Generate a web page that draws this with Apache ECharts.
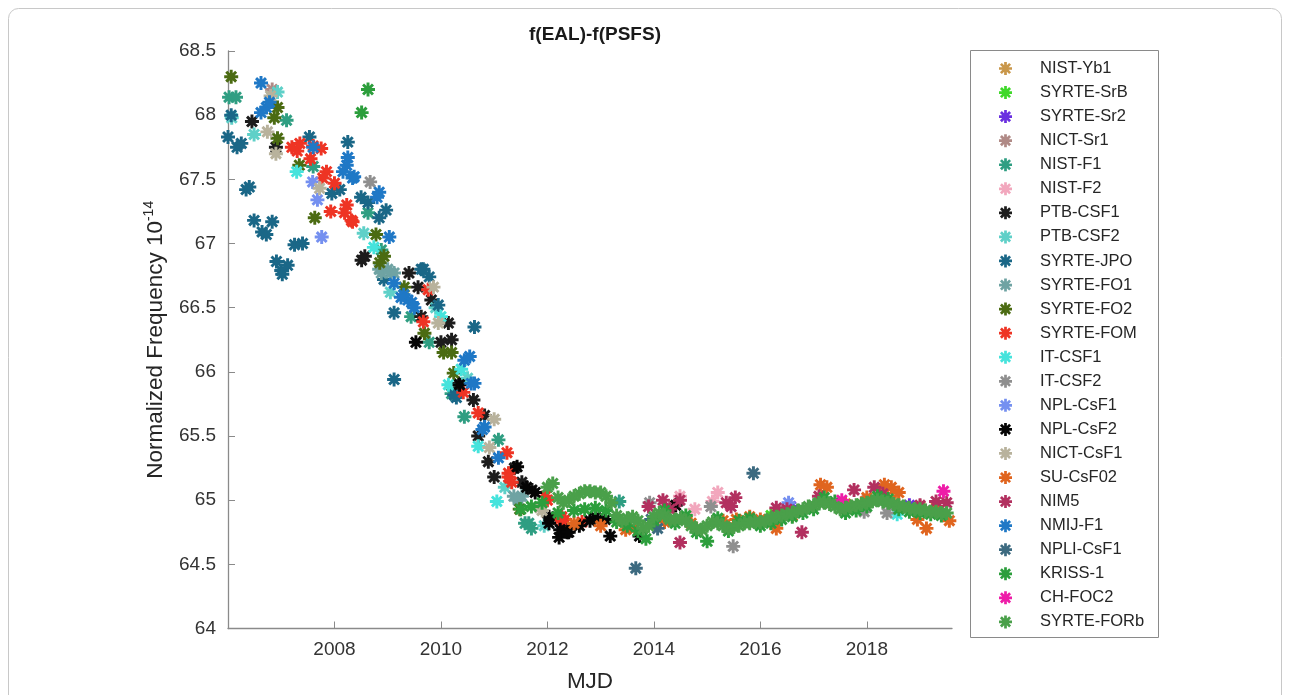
<!DOCTYPE html>
<html>
<head>
<meta charset="utf-8">
<script src="https://cdn.jsdelivr.net/npm/echarts@6/dist/echarts.min.js"></script>
<style>
html,body{margin:0;padding:0;background:#fff;}
#chart{width:1290px;height:695px;}
</style>
</head>
<body>
<div id="chart"></div>
<script>
// ---- data: [year, normalized frequency (1e-14)] ----
const seriesNames = ['NIST-Yb1','SYRTE-SrB','SYRTE-Sr2','NICT-Sr1','NIST-F1','NIST-F2','PTB-CSF1','PTB-CSF2','SYRTE-JPO','SYRTE-FO1','SYRTE-FO2','SYRTE-FOM','IT-CSF1','IT-CSF2','NPL-CsF1','NPL-CsF2','NICT-CsF1','SU-CsF02','NIM5','NMIJ-F1','NPLI-CsF1','KRISS-1','CH-FOC2','SYRTE-FORb'];
const seriesColors = ['#c9974a','#3fd82a','#6a2fe0','#b08a86','#2f9e82','#f2a7bd','#1c1c1c','#5fd0c8','#1a6787','#6fa3a3','#4b6b12','#ee3424','#45e3dc','#8f8f8f','#7590f0','#050505','#b8b29c','#e0651f','#b2305f','#1f78c6','#3c6a80','#2c9e3c','#ee1ca8','#4aa04a'];

const nistYb1 = [[2018.5,65.0],[2019.0,64.95]];
const syrteSrB = [[2016.2,64.88],[2017.9,64.97]];
const syrteSr2 = [[2016.57,64.95],[2018.8,64.96]];
const nictSr1 = [[2006.83,68.2],[2016.4,64.9],[2018.0,65.0]];
const nistF1 = [[2006.02,68.14],[2006.15,68.14],[2007.1,67.96],[2007.6,67.6],[2008.63,67.24],[2008.88,66.95],[2009.44,66.43],[2009.78,66.23],[2010.2,65.83],[2010.44,65.65],[2011.08,65.47],[2011.58,64.82],[2011.65,64.82],[2011.7,64.78],[2013.35,64.99]];
const nistF2 = [[2014.49,65.03],[2014.77,64.93],[2015.2,65.06],[2015.1,64.99]];
const ptbCsf1 = [[2006.45,67.95],[2006.9,67.75],[2008.51,66.87],[2008.57,66.9],[2009.4,66.77],[2009.57,66.66],[2009.63,66.43],[2009.82,66.56],[2010.14,66.38],[2010.0,66.23],[2010.2,66.25],[2010.33,65.91],[2010.61,65.78],[2010.82,65.66],[2010.7,65.5],[2010.89,65.3],[2011.0,65.18],[2011.38,65.25],[2011.52,65.14],[2011.71,65.08],[2012.05,64.85],[2012.3,64.8]];
const ptbCsf2 = [[2006.07,67.98],[2006.49,67.85],[2006.93,68.18],[2008.55,67.08],[2009.05,66.62],[2009.9,66.5],[2010.5,65.95],[2011.2,65.1],[2011.94,64.8]];
const syrteJpo = [[2006.06,68.0],[2006.0,67.83],[2006.17,67.75],[2006.25,67.78],[2006.34,67.42],[2006.4,67.44],[2006.49,67.18],[2006.83,67.17],[2006.64,67.09],[2006.72,67.07],[2007.25,66.99],[2007.4,67.0],[2006.91,66.86],[2007.0,66.79],[2007.12,66.83],[2007.02,66.76],[2007.53,67.83],[2008.25,67.79],[2007.95,67.39],[2008.1,67.42],[2008.5,67.36],[2008.63,67.32],[2008.84,67.2],[2008.97,67.26],[2008.93,66.72],[2009.63,66.8],[2009.78,66.74],[2009.67,66.8],[2009.95,66.52],[2009.12,66.46],[2010.63,66.35],[2009.12,65.94],[2010.25,65.82],[2010.29,65.8]];
const syrteFo1 = [[2008.84,66.8],[2008.88,66.77],[2009.0,66.8],[2009.06,66.77],[2009.12,66.77],[2011.37,65.03],[2011.52,65.03],[2011.45,65.0]];
const syrteFo2 = [[2006.06,68.3],[2006.87,67.98],[2006.93,68.06],[2006.93,67.82],[2007.34,67.61],[2007.63,67.2],[2008.78,67.07],[2008.85,66.85],[2008.93,66.9],[2009.31,66.66],[2009.69,66.3],[2010.05,66.15],[2010.2,66.15],[2010.24,65.99],[2011.48,64.93]];
const syrteFom = [[2007.2,67.75],[2007.3,67.72],[2007.35,67.78],[2007.55,67.66],[2007.6,67.76],[2007.75,67.74],[2007.85,67.56],[2007.78,67.51],[2008.0,67.47],[2007.93,67.25],[2008.23,67.3],[2008.32,67.18],[2008.19,67.24],[2008.34,67.17],[2009.76,66.64],[2009.67,66.39],[2010.42,65.84],[2010.7,65.68],[2011.24,65.37],[2011.27,65.21],[2011.33,65.14],[2011.27,65.18],[2012.0,65.0],[2011.96,65.03],[2012.22,64.85],[2012.33,64.85],[2012.27,64.87],[2012.65,64.83]];
const itCsf1 = [[2007.29,67.56],[2008.74,66.97],[2010.0,66.43],[2010.14,65.9],[2010.38,66.02],[2010.7,65.42],[2011.05,64.99],[2018.57,64.89]];
const itCsf2 = [[2008.67,67.48],[2013.92,64.98],[2014.3,64.94],[2015.07,64.95],[2015.49,64.64],[2017.95,64.91],[2018.38,64.9]];
const nplCsf1 = [[2007.59,67.48],[2007.68,67.34],[2007.76,67.05],[2016.53,64.98]];
const nplCsf2 = [[2009.53,66.23],[2010.35,65.9],[2011.43,65.26],[2011.61,65.1],[2011.77,65.06],[2012.03,64.82],[2012.03,64.87],[2012.22,64.71],[2012.24,64.77],[2012.37,64.75],[2012.4,64.75],[2012.6,64.8],[2012.8,64.84],[2012.9,64.87],[2013.09,64.85],[2013.18,64.72],[2013.73,64.72],[2014.41,64.96]];
const nictCsf1 = [[2006.8,68.15],[2006.74,67.87],[2006.9,67.7],[2007.72,67.43],[2009.86,66.66],[2009.95,66.38],[2011.0,65.63],[2010.91,65.41],[2011.86,64.94],[2011.9,64.92]];
const suCsf02 = [[2012.5,64.82],[2013.0,64.8],[2013.47,64.77],[2013.64,64.78],[2014.2,64.83],[2014.7,64.82],[2015.3,64.84],[2015.55,64.85],[2015.8,64.87],[2016.0,64.85],[2016.3,64.78],[2016.6,64.88],[2017.13,65.12],[2017.25,65.1],[2017.6,64.97],[2018.0,65.02],[2018.33,65.12],[2018.46,65.1],[2018.6,65.06],[2018.95,64.85],[2019.12,64.78],[2019.3,64.95],[2019.55,64.84]];
const nim5 = [[2013.9,64.95],[2014.17,65.0],[2014.3,64.93],[2014.49,64.67],[2014.49,65.0],[2015.36,64.98],[2015.53,65.02],[2015.45,64.95],[2016.3,64.94],[2016.5,64.93],[2016.78,64.75],[2017.1,65.03],[2017.76,65.08],[2018.14,65.1],[2018.3,65.05],[2019.0,64.96],[2019.3,64.99],[2019.5,64.98]];
const nmijF1 = [[2006.62,68.25],[2006.62,68.02],[2006.72,68.06],[2006.78,68.1],[2007.6,67.75],[2008.25,67.67],[2008.23,67.61],[2008.16,67.56],[2008.34,67.51],[2008.37,67.52],[2008.84,67.4],[2008.8,67.36],[2009.03,67.05],[2009.12,66.69],[2009.38,66.56],[2009.3,66.6],[2009.25,66.58],[2009.45,66.54],[2009.5,66.5],[2010.44,66.09],[2010.54,66.12],[2010.57,65.91],[2010.63,65.91],[2010.82,65.57],[2010.78,65.55],[2011.08,65.33]];
const npliCsf1 = [[2013.66,64.47],[2013.95,64.85],[2014.07,64.78],[2015.87,65.21]];
const kriss1 = [[2008.51,68.02],[2008.63,68.2],[2011.5,64.93],[2011.7,64.95],[2011.9,64.98],[2012.2,64.9],[2012.5,64.92],[2012.7,64.93],[2012.9,64.94],[2013.1,64.92],[2013.3,64.83],[2013.5,64.8],[2013.7,64.76],[2013.85,64.7],[2014.0,64.84],[2014.2,64.92],[2014.4,64.82],[2014.6,64.88],[2014.8,64.75],[2015.0,64.68],[2015.2,64.86],[2015.4,64.76],[2015.6,64.84],[2015.8,64.86],[2016.0,64.8],[2016.2,64.82],[2016.4,64.85],[2016.6,64.87],[2016.8,64.9],[2017.0,64.93],[2017.2,65.02],[2017.4,64.99],[2017.6,64.9],[2017.8,64.92],[2018.0,64.95],[2018.2,65.03],[2018.4,65.01],[2018.6,64.93],[2018.8,64.91],[2019.0,64.9],[2019.2,64.89],[2019.4,64.88]];
const chFoc2 = [[2017.53,65.0],[2019.44,65.07]];
const syrteForb = [[2012.0,65.1],[2012.1,65.13],[2012.2,65.02],[2012.3,64.98],[2012.4,65.0],[2012.5,65.03],[2012.6,65.05],[2012.7,65.07],[2012.8,65.07],[2012.9,65.06],[2013.0,65.06],[2013.1,65.03],[2013.2,64.98],[2013.3,64.88],[2013.4,64.84],[2013.5,64.86],[2013.6,64.87],[2013.7,64.84],[2013.8,64.78],[2013.9,64.8],[2014.0,64.87],[2014.1,64.9],[2014.2,64.88],[2014.3,64.85],[2014.4,64.85],[2014.5,64.86],[2014.6,64.84],[2014.7,64.8],[2014.8,64.78],[2014.9,64.77],[2015.0,64.8],[2015.1,64.83],[2015.2,64.82],[2015.3,64.8],[2015.4,64.78],[2015.5,64.79],[2015.6,64.8],[2015.7,64.82],[2015.8,64.82],[2015.9,64.83],[2016.0,64.83],[2016.1,64.84],[2016.2,64.86],[2016.3,64.87],[2016.4,64.88],[2016.5,64.89],[2016.6,64.9],[2016.7,64.92],[2016.8,64.93],[2016.9,64.95],[2017.0,64.96],[2017.1,64.98],[2017.2,64.98],[2017.3,64.97],[2017.4,64.95],[2017.5,64.93],[2017.6,64.94],[2017.7,64.95],[2017.8,64.96],[2017.9,64.97],[2018.0,64.98],[2018.1,64.99],[2018.2,65.0],[2018.3,64.99],[2018.4,64.98],[2018.5,64.97],[2018.6,64.96],[2018.7,64.95],[2018.8,64.94],[2018.9,64.93],[2019.0,64.93],[2019.1,64.92],[2019.2,64.91],[2019.3,64.91],[2019.4,64.9],[2019.5,64.9]];

const seriesData = [nistYb1,syrteSrB,syrteSr2,nictSr1,nistF1,nistF2,ptbCsf1,ptbCsf2,syrteJpo,syrteFo1,syrteFo2,syrteFom,itCsf1,itCsf2,nplCsf1,nplCsf2,nictCsf1,suCsf02,nim5,nmijF1,npliCsf1,kriss1,chFoc2,syrteForb];

const yTicks = {min:64, max:68.5, step:0.5};
const xTicks = {min:2006, max:2019.6, step:2};

// ---- asterisk marker (8 arms) ----
function asteriskPath(h){
  const parts=[];
  for(let k=0;k<4;k++){
    const t=k*Math.PI/4, dx=Math.cos(t)*10, dy=Math.sin(t)*10, nx=-Math.sin(t)*h, ny=Math.cos(t)*h;
    const p=[[dx+nx,dy+ny],[dx-nx,dy-ny],[-dx-nx,-dy-ny],[-dx+nx,-dy+ny]];
    parts.push('M'+p.map(q=>q[0].toFixed(3)+' '+q[1].toFixed(3)).join(' L')+' Z');
  }
  return 'path://'+parts.join(' ');
}
const STAR = asteriskPath(2.1);
const FONT = 'Liberation Sans, Arial, Helvetica, sans-serif';
const AXC = '#8a8a8a';
const TXC = '#262626';

const chart = echarts.init(document.getElementById('chart'), null, {renderer:'canvas'});
chart.setOption({
  animation:false,
  backgroundColor:'#fff',
  textStyle:{fontFamily:FONT},
  title:{text:'f(EAL)-f(PSFS)', left:590, top:20, textAlign:'center',
    textStyle:{fontFamily:FONT, fontSize:19, fontWeight:'bold', color:'#1a1a1a'}},
  graphic:[
    {type:'rect', shape:{x:8.5,y:8.5,width:1273,height:740,r:10}, style:{fill:'none',stroke:'#c8c8c8',lineWidth:1}, silent:true, z:-10},
    {type:'rect', shape:{x:970.5,y:50.5,width:188,height:587}, style:{fill:'#fff',stroke:'#8a8a8a',lineWidth:1}, silent:true, z:-5}
  ],
  legend:{
    orient:'vertical', left:999, top:60, padding:0,
    itemWidth:13, itemHeight:13, itemGap:7.06,
    icon:STAR, selectedMode:false,
    textStyle:{fontFamily:FONT, fontSize:16.5, color:TXC, padding:[0,0,0,23]},
    data:seriesNames
  },
  grid:{left:228, right:338, top:51, bottom:66.5, containLabel:false, outerBoundsMode:'none'},
  xAxis:{
    type:'value', min:xTicks.min, max:xTicks.max, interval:xTicks.step,
    name:'MJD', nameLocation:'middle', nameGap:42,
    nameTextStyle:{fontFamily:FONT, fontSize:22.5, color:TXC},
    axisLine:{show:true, onZero:false, lineStyle:{color:AXC, width:1.3}},
    axisTick:{show:true, inside:true, length:7, lineStyle:{color:AXC}},
    axisLabel:{showMinLabel:false, showMaxLabel:false, margin:12, fontFamily:FONT, fontSize:19, color:'#333',
      formatter:function(v){return String(Math.round(v));}},
    splitLine:{show:false}
  },
  yAxis:{
    type:'value', min:yTicks.min, max:yTicks.max, interval:yTicks.step,
    name:'{a|Normalized Frequency 10}{b|-14}', nameLocation:'middle', nameGap:58,
    nameTextStyle:{fontFamily:FONT, color:TXC, rich:{
      a:{fontFamily:FONT, fontSize:22.5, color:TXC, lineHeight:28},
      b:{fontFamily:FONT, fontSize:14, color:TXC, verticalAlign:'top', lineHeight:28, padding:[0,0,10,0]}
    }},
    axisLine:{show:true, onZero:false, lineStyle:{color:AXC, width:1.3}},
    axisTick:{show:true, inside:true, length:7, lineStyle:{color:AXC}},
    axisLabel:{margin:12, fontFamily:FONT, fontSize:19, color:'#333'},
    splitLine:{show:false}
  },
  series:seriesNames.map((n,i)=>({
    name:n, type:'scatter', data:seriesData[i], symbol:STAR, symbolSize:14,
    itemStyle:{color:seriesColors[i], opacity:1}, z:2
  }))
});
</script>
</body>
</html>
